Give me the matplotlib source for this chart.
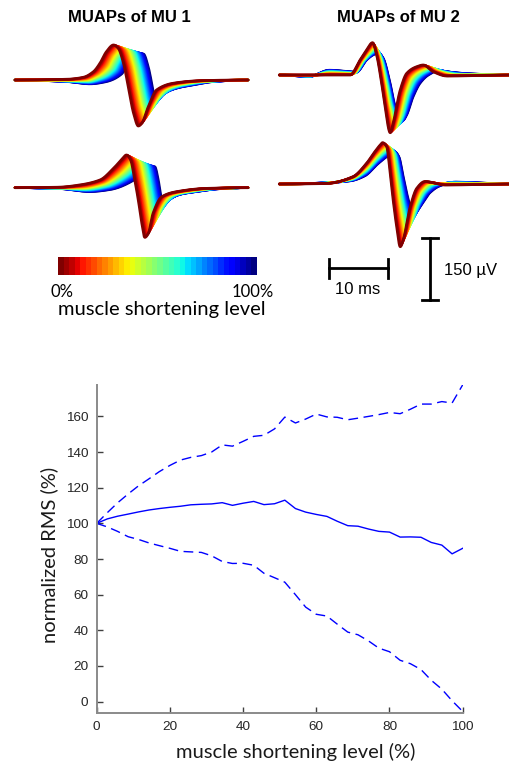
import numpy as np
import matplotlib
matplotlib.use("Agg")
import matplotlib.pyplot as plt

# ---------------- bottom chart data (normalized RMS, %) ----------------
shortening_level = [0.0, 2.9, 5.7, 8.6, 11.4, 14.3, 17.1, 20.0, 22.9, 25.7, 28.6, 31.4,
                    34.3, 37.1, 40.0, 42.9, 45.7, 48.6, 51.4, 54.3, 57.1, 60.0, 62.9, 65.7,
                    68.6, 71.4, 74.3, 77.1, 80.0, 82.9, 85.7, 88.6, 91.4, 94.3, 97.1, 100.0]
rms_mean = [100, 102.5, 104, 105.2, 106.4, 107.5, 108.3, 109, 109.6, 110.4, 110.7, 110.9,
            111.6, 110.1, 111.3, 112.3, 110.5, 111, 113, 108.3, 106.3, 105, 103.9, 101.2,
            98.7, 98.4, 96.8, 95.5, 95.1, 92.3, 92.4, 92.2, 89.3, 87.8, 82.9, 86]
rms_upper = [100, 106, 111.5, 116.5, 121, 125, 129, 132.5, 135.5, 137, 138, 140,
             144, 143.3, 146, 148.8, 149.4, 153, 159.6, 156.3, 158.5, 161.3, 159.7, 159.5,
             158.1, 159, 160, 161, 162.2, 161.5, 164, 166.9, 166.9, 168.3, 167.5, 177.7]
rms_lower = [100, 98, 95.5, 92.5, 91, 89, 87.5, 86, 84.3, 84, 83.7, 81.8,
             78.6, 77.5, 77.6, 76.5, 72, 69.5, 67, 60, 53, 49, 48, 43.5,
             39, 37.5, 34, 30, 28, 23.2, 21.3, 18, 12, 7, 0.5, -5.5]
x_ticks = [0, 20, 40, 60, 80, 100]
y_ticks = [0, 20, 40, 60, 80, 100, 120, 140, 160]

# ---------------- MUAP key points (time in ms, amplitude in uV) ----------------
# at 0 % shortening (dark red) and 100 % shortening (dark blue)
mu1_up_t0 = [0, 8.8, 11.6, 13.3, 14.4, 15.5, 16.7, 17.5, 18.4, 19.2, 20.1, 20.9, 21.5, 22.6, 24.0, 26.8, 31.4, 39.5]
mu1_up_a0 = [0, 1.7, 6.6, 20.2, 40.6, 68.9, 85.2, 77.1, 40.6, -16.3, -81.0, -111.9, -105.3, -65.0, -24.3, -8.0, -1.7, 0]
mu1_up_t1 = [0, 8.8, 12.7, 15.3, 18.1, 19.2, 20.6, 21.8, 22.6, 23.2, 23.6, 24.0, 24.6, 25.7, 28.0, 30.2, 33.6, 39.5]
mu1_up_a1 = [0, -4.1, -9.7, -4.9, 14.6, 43.8, 65.0, 63.3, 32.4, -8.0, -36.5, -44.5, -40.6, -28.5, -17.8, -12.2, -4.1, 0]

mu1_lo_t0 = [0, 7.6, 10.5, 14.4, 16.7, 18.1, 18.9, 19.6, 20.3, 20.9, 21.5, 22.0, 22.6, 23.4, 24.9, 27.4, 32.5, 39.5]
mu1_lo_a0 = [0, 1.2, 5.6, 18.7, 47.0, 68.9, 79.6, 67.4, 18.7, -29.9, -86.9, -120.9, -111.2, -62.5, -21.9, -9.7, -1.7, 0]
mu1_lo_t1 = [0, 7.6, 12.7, 16.1, 20.3, 21.8, 22.6, 23.7, 24.3, 24.6, 24.8, 25.1, 25.7, 26.8, 28.5, 30.8, 34.2, 39.5]
mu1_lo_a1 = [0, -2.4, -9.7, -4.9, 19.5, 38.9, 51.1, 51.1, 19.5, -7.3, -24.3, -34.1, -30.9, -21.9, -14.6, -9.7, -3.2, 0]

mu2_up_t0 = [0, 5.5, 8.6, 12.0, 13.7, 14.8, 15.8, 16.5, 17.4, 17.9, 18.8, 19.3, 20.5, 21.6, 23.3, 24.4, 26.1, 28.4, 39.1]
mu2_up_a0 = [0, 0, 0, 0, 36.5, 60.8, 78.6, 48.7, -25.0, -73.7, -140.4, -117.5, -36.5, 4.1, 20.2, 24.3, 8.0, -2.4, 0]
mu2_up_t1 = [0, 5.0, 8.5, 13.1, 14.8, 15.9, 16.8, 17.6, 18.8, 19.6, 21.0, 21.6, 22.7, 23.9, 25.3, 27.0, 28.9, 31.8, 39.1]
mu2_up_a1 = [0, -4.0, 12.0, 7.3, 36.5, 48.7, 53.5, 41.4, -20.2, -73.0, -109.5, -97.3, -52.8, -19.5, 0, 10.5, 7.3, 3.6, 0]

mu2_lo_t0 = [0, 8.0, 12.5, 14.8, 16.2, 17.1, 17.5, 18.2, 18.8, 19.3, 19.9, 20.5, 21.0, 22.2, 23.3, 24.7, 28.1, 39.1]
mu2_lo_a0 = [0, 1.2, 17.8, 50.4, 78.6, 94.9, 100.5, 90.8, 26.0, -38.9, -103.9, -152.6, -136.3, -55.2, -10.5, 6.1, -2.4, 0]
mu2_lo_t1 = [0, 6.9, 12.0, 14.5, 16.7, 18.4, 19.6, 20.3, 21.0, 21.5, 22.0, 22.7, 23.3, 24.2, 25.5, 27.2, 29.8, 39.1]
mu2_lo_a1 = [0, 2.4, 7.3, 19.5, 48.7, 68.1, 77.9, 65.7, 19.5, -14.6, -43.8, -70.6, -65.7, -48.7, -21.9, -4.9, 4.9, 0]

n_levels = len(shortening_level)


def pchip(x, y, xn):
    x = np.asarray(x, float)
    y = np.asarray(y, float)
    h = np.diff(x)
    d = np.diff(y) / h
    m = np.zeros_like(y)
    for k in range(1, len(x) - 1):
        if d[k - 1] * d[k] > 0:
            w1 = 2 * h[k] + h[k - 1]
            w2 = h[k] + 2 * h[k - 1]
            m[k] = (w1 + w2) / (w1 / d[k - 1] + w2 / d[k])
    idx = np.clip(np.searchsorted(x, xn) - 1, 0, len(x) - 2)
    t = (xn - x[idx]) / h[idx]
    h00 = 2 * t**3 - 3 * t**2 + 1
    h10 = t**3 - 2 * t**2 + t
    h01 = -2 * t**3 + 3 * t**2
    h11 = t**3 - t**2
    return h00 * y[idx] + h10 * h[idx] * m[idx] + h01 * y[idx + 1] + h11 * h[idx] * m[idx + 1]


# ---------------- figure ----------------
W, H = 510, 761
fig = plt.figure(figsize=(W / 100, H / 100), dpi=100)

PX_PER_MS = 5.9
PX_PER_UV = 0.411

# overlay axes in ms / uV for the MUAP traces and scale bars
ov = fig.add_axes([0, 0, 1, 1])
ov.set_xlim(0, W / PX_PER_MS)
ov.set_ylim(0, H / PX_PER_UV)
ov.axis("off")
ov.patch.set_alpha(0)


def px2ms(px):
    return px / PX_PER_MS


def py2uv(py):
    return (H - py) / PX_PER_UV


cmap = plt.get_cmap("jet")
panels = [
    (mu1_up_t0, mu1_up_a0, mu1_up_t1, mu1_up_a1, 15.0, 80.0),
    (mu1_lo_t0, mu1_lo_a0, mu1_lo_t1, mu1_lo_a1, 15.0, 187.7),
    (mu2_up_t0, mu2_up_a0, mu2_up_t1, mu2_up_a1, 279.3, 75.0),
    (mu2_lo_t0, mu2_lo_a0, mu2_lo_t1, mu2_lo_a1, 279.3, 184.0),
]
for t0, a0, t1, a1, x0px, base_py in panels:
    t0 = np.array(t0); a0 = np.array(a0); t1 = np.array(t1); a1 = np.array(a1)
    for k in range(n_levels - 1, -1, -1):
        f = shortening_level[k] / 100.0
        tk = (1 - f) * t0 + f * t1
        ak = (1 - f) * a0 + f * a1
        tt = np.linspace(tk[0], tk[-1], 600)
        aa = pchip(tk, ak, tt)
        ov.plot(px2ms(x0px) + tt, py2uv(base_py) + aa, color=cmap(1 - f),
                lw=2.0 if k == 0 else 1.7, solid_capstyle="round",
                solid_joinstyle="round", clip_on=False)

# scale bars
hb_y = py2uv(268.3)
ov.plot([px2ms(329.3), px2ms(329.3) + 10], [hb_y, hb_y], color="black", lw=2.0)
for xx in (px2ms(329.3), px2ms(329.3) + 10):
    ov.plot([xx, xx], [hb_y - 9.5 / PX_PER_UV, hb_y + 9.5 / PX_PER_UV], color="black", lw=2.0)
vb_x = px2ms(430)
vb_top = py2uv(238.3)
ov.plot([vb_x, vb_x], [vb_top - 150, vb_top], color="black", lw=2.0)
for yy in (vb_top - 150, vb_top):
    ov.plot([vb_x - 8.3 / PX_PER_MS, vb_x + 8.3 / PX_PER_MS], [yy, yy], color="black", lw=2.0)
ov.text(px2ms(357.5), py2uv(290), "10 ms", ha="center", va="center",
        fontsize=12, family="Liberation Sans")
ov.text(px2ms(444), py2uv(270), "150 µV", ha="left", va="center",
        fontsize=12, family="Liberation Sans")

# titles
fig.text(129.5 / W, 1 - 17.2 / H, "MUAPs of MU 1", ha="center", va="center",
         fontsize=12, fontweight="bold", family="Liberation Sans")
fig.text(398.8 / W, 1 - 17.2 / H, "MUAPs of MU 2", ha="center", va="center",
         fontsize=12, fontweight="bold", family="Liberation Sans")

# colour bar
cb = fig.add_axes([58.3 / W, 1 - 275 / H, (256.7 - 58.3) / W, 18.3 / H])
cb.pcolormesh(np.arange(n_levels + 1), [0, 1], np.array(shortening_level)[None, :],
              cmap="jet_r", vmin=0, vmax=100, shading="flat")
cb.set_xlim(0, n_levels)
cb.set_ylim(0, 1)
cb.axis("off")
fig.text(61.7 / W, 1 - 291.7 / H, "0%", ha="center", va="center", fontsize=12, family="Lato")
fig.text(252.5 / W, 1 - 291.7 / H, "100%", ha="center", va="center", fontsize=12, family="Lato")
fig.text(161.7 / W, 1 - 310 / H, "muscle shortening level", ha="center", va="center",
         fontsize=14.5, family="Lato")

# ---------------- bottom chart ----------------
ax_l, ax_r, ax_t, ax_b = 96.7, 462.7, 385.0, 712.7
ax = fig.add_axes([ax_l / W, 1 - ax_b / H, (ax_r - ax_l) / W, (ax_b - ax_t) / H])
ax.plot(shortening_level, rms_mean, color="blue", lw=1.0)
ax.plot(shortening_level, rms_upper, color="blue", lw=1.0, ls=(0, (7, 4)))
ax.plot(shortening_level, rms_lower, color="blue", lw=1.0, ls=(0, (7, 4)))
ax.set_xlim(0, 100)
ax.set_ylim(-6.2, 177.6)
ax.set_xticks(x_ticks)
ax.set_yticks(y_ticks)
for s in ("top", "right"):
    ax.spines[s].set_visible(False)
for s in ("left", "bottom"):
    ax.spines[s].set_color("#8a8a8a")
    ax.spines[s].set_linewidth(1.4)
ax.tick_params(direction="in", length=4, width=1.0, color="#404040",
               labelcolor="#262626", labelsize=9.7, pad=6)
for lab in ax.get_xticklabels() + ax.get_yticklabels():
    lab.set_family("Liberation Sans")
ax.set_xlabel("muscle shortening level (%)", fontsize=14.5, family="Lato", color="#1a1a1a")
ax.set_ylabel("normalized RMS (%)", fontsize=14.5, family="Lato", color="#1a1a1a")
ax.xaxis.set_label_coords((295.8 - ax_l) / (ax_r - ax_l), -(751.7 - ax_b) / (ax_b - ax_t))
ax.xaxis.label.set_va("center")
ax.yaxis.set_label_coords(-(ax_l - 49) / (ax_r - ax_l), (ax_b - 555) / (ax_b - ax_t))
ax.yaxis.label.set_va("center")
ax.patch.set_alpha(0)

fig.savefig("out.png", dpi=100)
